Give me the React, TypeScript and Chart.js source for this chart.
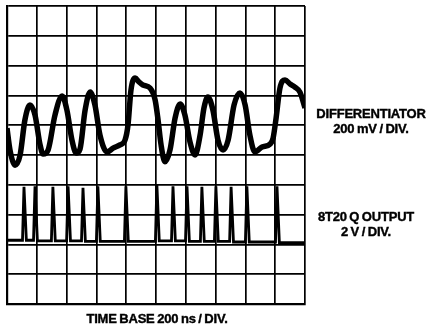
import React, { useEffect, useRef } from "react";
import { Chart, registerables } from "chart.js";

Chart.register(...registerables);

// Time axis in divisions (200 ns / div), vertical axis in divisions
const diffTime = [
  0, 0.1, 0.27, 0.44, 0.6, 0.77, 0.94, 1.11, 1.21, 1.38, 1.61, 1.85, 2.01, 2.18, 2.32, 2.45,
  2.62, 2.79, 2.95, 3.12, 3.36, 3.56, 3.79, 3.96, 4.06, 4.16, 4.3, 4.43, 4.56, 4.8, 4.97,
  5.07, 5.17, 5.3, 5.47, 5.64, 5.81, 5.97, 6.14, 6.31, 6.48, 6.61, 6.74, 6.91, 7.08, 7.25,
  7.42, 7.62, 7.82, 7.99, 8.15, 8.32, 8.56, 8.83, 8.93, 9.03, 9.16, 9.33, 9.5, 9.66, 9.83, 10,
];
const diffLevel = [
  5.9, 5.17, 4.66, 5.0, 6.17, 6.68, 6.34, 5.34, 5.03, 5.17, 6.34, 6.98, 6.51, 5.5, 5.07, 5.2,
  6.5, 7.11, 6.68, 5.67, 5.1, 5.23, 5.34, 5.5, 6.0, 7.18, 7.58, 7.45, 7.35, 7.25, 6.85,
  6.17, 5.34, 4.77, 5.17, 6.24, 6.71, 6.34, 5.44, 5.0, 5.67, 6.58, 6.95, 6.51, 5.5, 5.17,
  5.5, 6.68, 7.08, 6.68, 5.67, 5.1, 5.27, 5.37, 5.57, 6.24, 7.25, 7.52, 7.38, 7.28, 7.11, 6.58,
];

// 8T20 Q output pulses
const qSpikeTime = [0.57, 0.94, 1.54, 2.05, 2.55, 3.05, 3.99, 5.03, 5.57, 6.04, 6.54, 7.01, 7.52, 8.05, 9.06];
const qSpikeTop = [3.93, 3.95, 3.93, 3.95, 3.9, 3.95, 3.95, 4.0, 3.95, 3.95, 3.93, 3.95, 3.93, 3.95, 3.95];
const qBaseLevel = [2.14, 2.12, 2.12, 2.12, 2.1, 2.1, 2.1, 2.12, 2.12, 2.1, 2.1, 2.1, 2.08, 2.08, 2.06];
const qStartLevel = 2.14;

const gridDivisions = 10;

export default function App() {
  const canvasRef = useRef<HTMLCanvasElement | null>(null);

  useEffect(() => {
    const canvas = canvasRef.current;
    if (!canvas) return;

    const diffData = diffTime.map((t, i) => ({ x: t, y: diffLevel[i] }));
    const qData: { x: number; y: number }[] = [{ x: 0, y: qStartLevel }];
    qSpikeTime.forEach((t, i) => {
      const prevBase = i === 0 ? qStartLevel : qBaseLevel[i - 1];
      qData.push({ x: t - 0.05, y: prevBase });
      qData.push({ x: t, y: qSpikeTop[i] });
      qData.push({ x: t + 0.08, y: qBaseLevel[i] });
    });
    qData.push({ x: gridDivisions, y: qBaseLevel[qBaseLevel.length - 1] });

    const axis = {
      type: "linear" as const,
      min: 0,
      max: gridDivisions,
      ticks: { display: false, stepSize: 1 },
      grid: { color: "#000", lineWidth: 1.7, drawTicks: false },
      border: { display: true, color: "#000", width: 2.2 },
    };

    const chart = new Chart(canvas, {
      type: "scatter",
      data: {
        datasets: [
          {
            label: "DIFFERENTIATOR",
            data: diffData,
            showLine: true,
            borderColor: "#000",
            borderWidth: 5.5,
            pointRadius: 0,
            cubicInterpolationMode: "monotone",
          },
          {
            label: "8T20 Q OUTPUT",
            data: qData,
            showLine: true,
            borderColor: "#000",
            borderWidth: 2.8,
            pointRadius: 0,
            tension: 0,
          },
        ],
      },
      options: {
        animation: false,
        responsive: false,
        maintainAspectRatio: false,
        layout: { padding: { left: 7, top: 6, right: 126, bottom: 26 } },
        scales: { x: axis, y: axis },
        plugins: { legend: { display: false }, tooltip: { enabled: false } },
      },
    });
    return () => chart.destroy();
  }, []);

  const labelStyle: React.CSSProperties = {
    position: "absolute",
    fontFamily: "'Liberation Sans', Arial, sans-serif",
    fontWeight: 700,
    fontSize: 13,
    lineHeight: "15px",
    textAlign: "center",
    color: "#000",
    wordSpacing: -0.8,
    letterSpacing: -0.2,
    whiteSpace: "nowrap",
    WebkitTextStroke: "0.4px #000",
  };

  return (
    <div style={{ position: "absolute", left: 0, top: 0, width: 431, height: 330, background: "#fff" }}>
      <canvas ref={canvasRef} width={431} height={330} style={{ display: "block" }} />
      <div style={{ ...labelStyle, left: 311, width: 120, top: 106 }}>
        DIFFERENTIATOR
        <br />
        200 mV / DIV.
      </div>
      <div style={{ ...labelStyle, left: 306, width: 120, top: 209 }}>
        8T20 Q OUTPUT
        <br />
        2 V / DIV.
      </div>
      <div style={{ ...labelStyle, left: 57, width: 200, top: 311 }}>TIME BASE 200 ns / DIV.</div>
    </div>
  );
}
